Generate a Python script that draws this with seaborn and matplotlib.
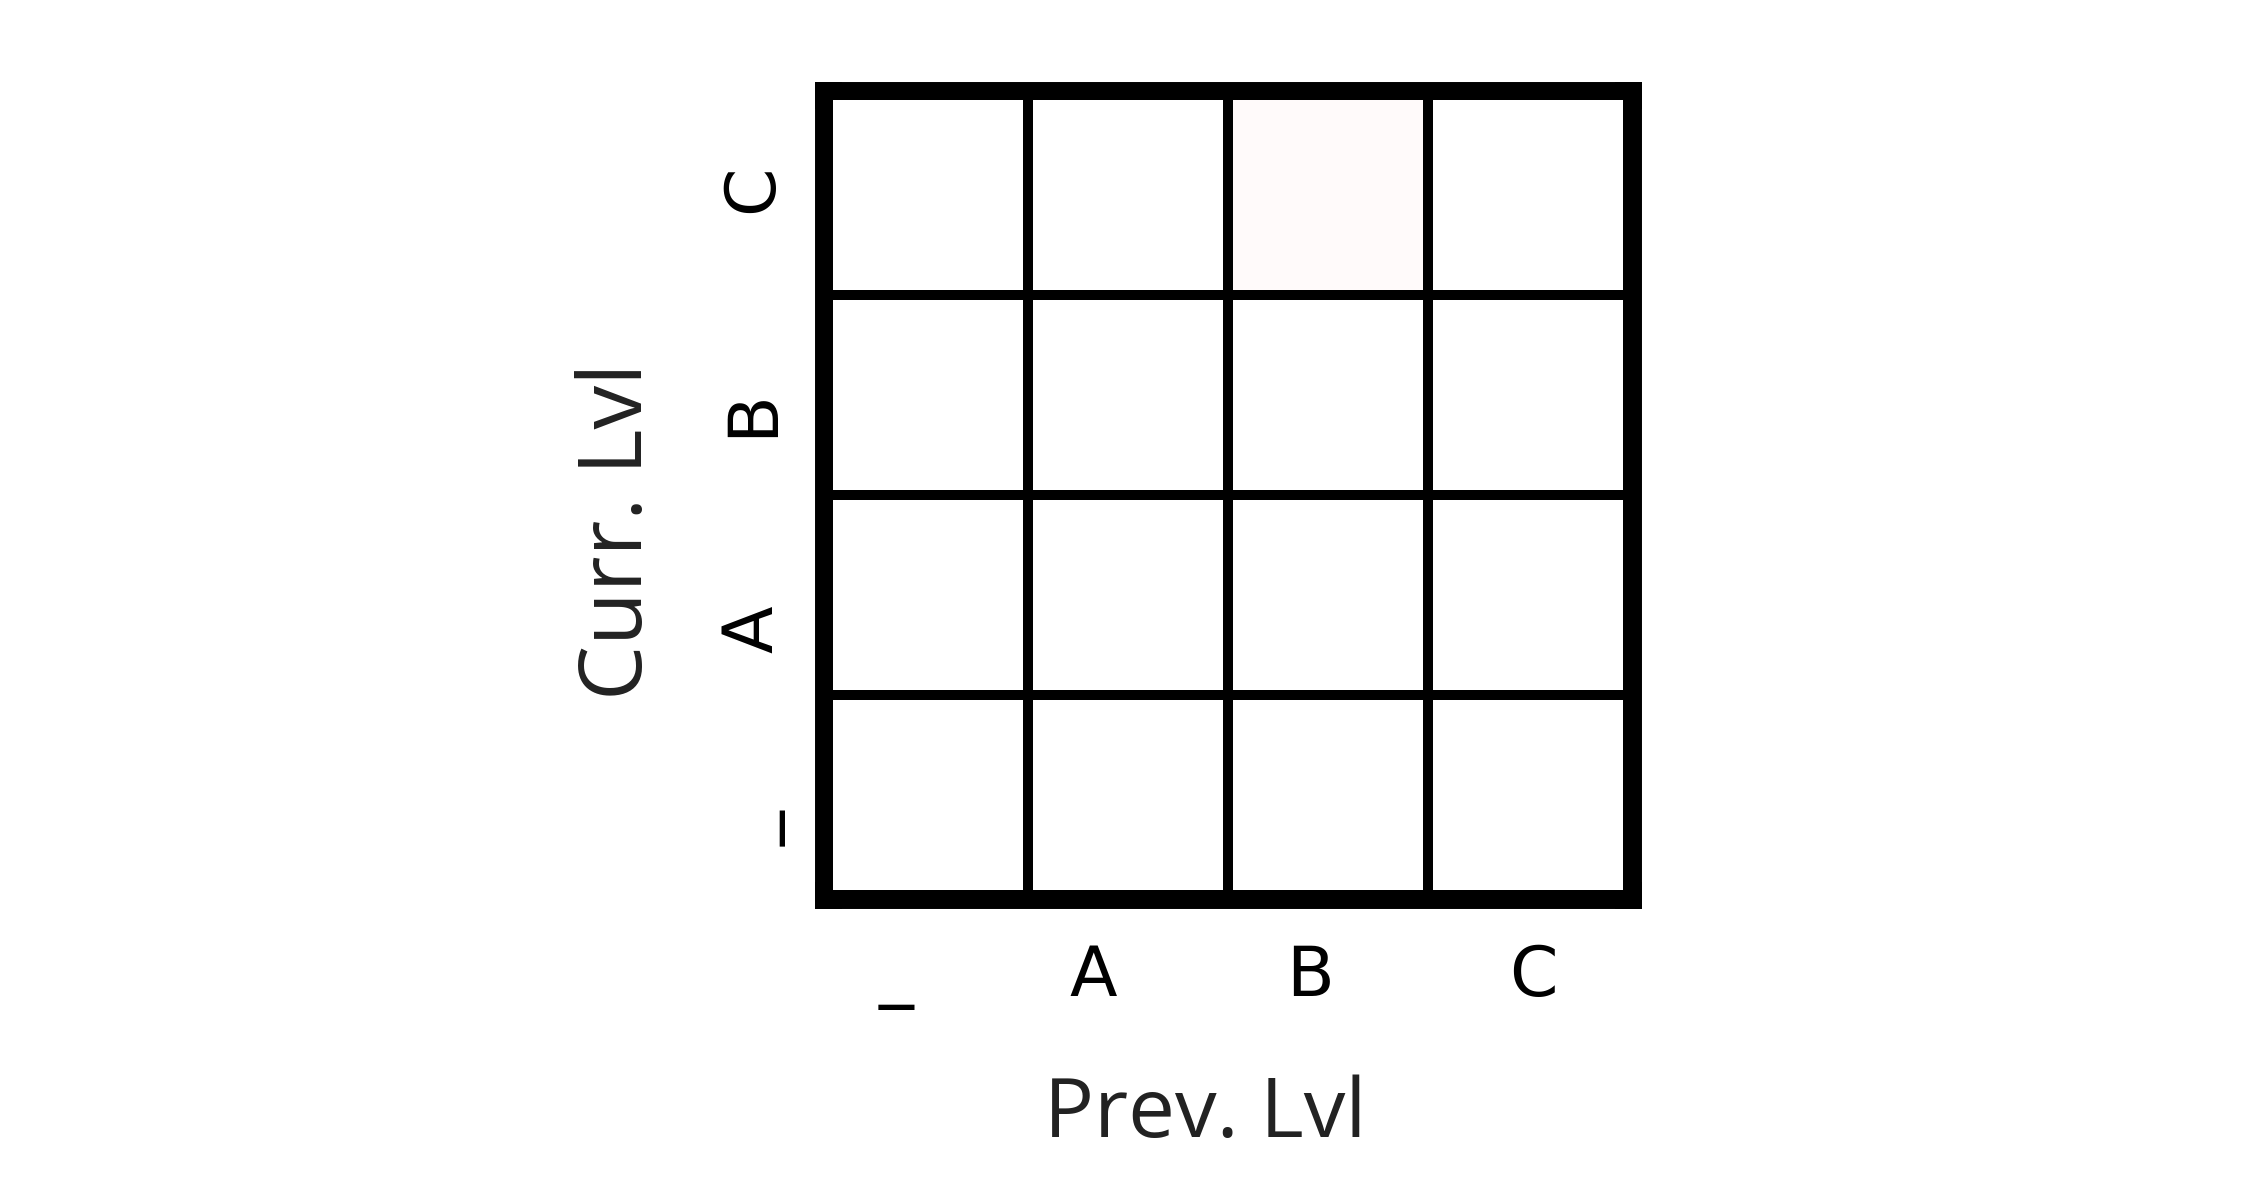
import numpy as np
import pandas as pd
import matplotlib
matplotlib.use('Agg')
import matplotlib.pyplot as plt
from matplotlib.colors import LinearSegmentedColormap
import seaborn as sns

# ── Data ──────────────────────────────────────────────────────────────────────
levels = ['_', 'A', 'B', 'C']
# rows = current level, columns = previous level (share of transitions)
trans = [
    [0.000, 0.000, 0.000, 0.000],   # curr _
    [0.000, 0.000, 0.000, 0.000],   # curr A
    [0.000, 0.000, 0.000, 0.000],   # curr B
    [0.000, 0.000, 0.020, 0.000],   # curr C
]

# ── Layout (figure pixels at dpi 100) ─────────────────────────────────────────
W, H, DPI = 2242, 1204, 100
AX_L, AX_T, AX_S = 827.7, 95.0, 800.0
# tick label placement, nudged as in the original
xtick_pos = [0.34, 1.33, 2.41, 3.53]
ytick_pos = [0.47, 1.59, 2.67, 3.67]

sns.set_theme(style='white')

df = pd.DataFrame(trans, index=levels, columns=levels).iloc[::-1]
cmap = LinearSegmentedColormap.from_list('wr', ['#ffffff', '#ff0000'])

fig = plt.figure(figsize=(W / DPI, H / DPI), dpi=DPI)
ax = fig.add_axes([AX_L / W, 1 - (AX_T + AX_S) / H, AX_S / W, AX_S / H])

sns.heatmap(df, ax=ax, cmap=cmap, vmin=0, vmax=1, cbar=False,
            linewidths=7.2, linecolor='black')

# thick outer frame, drawn under the cells
for s in ax.spines.values():
    s.set_visible(True)
    s.set_color('black')
    s.set_linewidth(19.4)
    s.set_zorder(0.5)

ax.set_xticks(xtick_pos)
ax.set_xticklabels(levels, rotation=0, fontsize=50,
                   family='DejaVu Sans', color='black')
ax.set_yticks(ytick_pos)
ax.set_yticklabels(df.index, rotation=90, va='center', fontsize=50,
                   family='DejaVu Sans', color='black')
ax.tick_params(axis='x', length=0, pad=34.6)
ax.tick_params(axis='y', length=0, pad=29.6)

ax.set_xlabel('Prev. Lvl', fontsize=60, family='Open Sans', color='#222222')
ax.xaxis.label.set_va('baseline')
ax.xaxis.set_label_coords(0.4716, -0.3029)

ax.set_ylabel('Curr. Lvl', fontsize=63, family='Open Sans', color='#222222')
ax.yaxis.label.set_va('baseline')
ax.yaxis.set_label_coords(-0.2325, 0.455)

plt.savefig('out.png', dpi=DPI, facecolor='white')
plt.close()
